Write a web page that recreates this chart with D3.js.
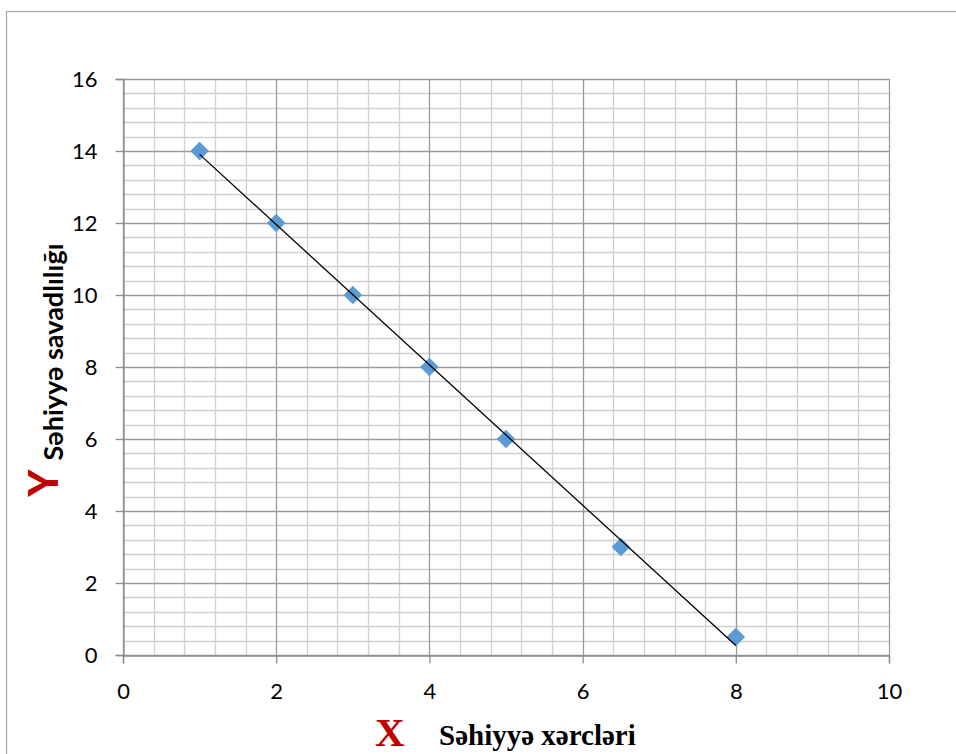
<!DOCTYPE html>
<html>
<head>
<meta charset="utf-8">
<script src="https://cdn.jsdelivr.net/npm/d3@7"></script>
<style>
  body { margin: 0; background: #fff; }
  svg { display: block; }
</style>
</head>
<body>
<div id="chart"></div>
<script>
// data
var xValues = [1, 2, 3, 4, 5, 6.5, 8];
var yValues = [14, 12, 10, 8, 6, 3, 0.5];
var xTicks = [0, 2, 4, 6, 8, 10];
var yTicks = [0, 2, 4, 6, 8, 10, 12, 14, 16];

var W = 956, H = 754;
var margin = {left: 123, top: 79, right: 956 - 889, bottom: 754 - 655};

var svg = d3.select("#chart").append("svg")
  .attr("width", W)
  .attr("height", H);

// chart border
svg.append("rect")
  .attr("x", 6.5).attr("y", 11.5)
  .attr("width", 1000).attr("height", 1000)
  .style("fill", "none")
  .style("stroke", "#a6a6a6")
  .style("stroke-width", 1.2);

var x = d3.scaleLinear().domain([0, 10]).range([margin.left, W - margin.right]);
var y = d3.scaleLinear().domain([0, 16]).range([H - margin.bottom, margin.top]);

// minor grid
var minorX = d3.range(0, 10.001, 0.4).filter(function(v) { return Math.abs(v / 2 - Math.round(v / 2)) > 1e-6; });
var minorY = d3.range(0, 16.001, 0.4).filter(function(v) { return Math.abs(v / 2 - Math.round(v / 2)) > 1e-6; });

var grid = svg.append("g");
grid.selectAll(".mx").data(minorX).enter().append("line")
  .attr("x1", function(d) { return Math.round(x(d)) + 0.5; })
  .attr("x2", function(d) { return Math.round(x(d)) + 0.5; })
  .attr("y1", y(0)).attr("y2", y(16))
  .style("stroke", "#d0d0d0").style("stroke-width", 1.3);
grid.selectAll(".my").data(minorY).enter().append("line")
  .attr("y1", function(d) { return Math.round(y(d)) + 0.5; })
  .attr("y2", function(d) { return Math.round(y(d)) + 0.5; })
  .attr("x1", x(0)).attr("x2", x(10))
  .style("stroke", "#d0d0d0").style("stroke-width", 1.3);

// major grid
grid.selectAll(".Mx").data(xTicks).enter().append("line")
  .attr("x1", function(d) { return Math.round(x(d)) + 0.5; })
  .attr("x2", function(d) { return Math.round(x(d)) + 0.5; })
  .attr("y1", y(0)).attr("y2", y(16))
  .style("stroke", "#9a9a9a").style("stroke-width", 1.3);
grid.selectAll(".My").data(yTicks).enter().append("line")
  .attr("y1", function(d) { return Math.round(y(d)) + 0.5; })
  .attr("y2", function(d) { return Math.round(y(d)) + 0.5; })
  .attr("x1", x(0)).attr("x2", x(10))
  .style("stroke", "#9a9a9a").style("stroke-width", 1.3);

// axes
var xAxis = svg.append("g")
  .attr("transform", "translate(0," + (Math.round(y(0)) + 0.5) + ")")
  .call(d3.axisBottom(x).tickValues(xTicks).tickSize(8).tickPadding(20));
var yAxis = svg.append("g")
  .attr("transform", "translate(" + (Math.round(x(0)) + 0.5) + ",0)")
  .call(d3.axisLeft(y).tickValues(yTicks).tickSize(8).tickPadding(18));

[xAxis, yAxis].forEach(function(a) {
  a.attr("font-size", null).attr("font-family", null);
  a.select(".domain").style("stroke", "#8c8c8c").style("stroke-width", 1.3);
  a.selectAll(".tick line").style("stroke", "#8c8c8c").style("stroke-width", 1.3);
  a.selectAll("text")
    .style("font-family", "Lato, 'Noto Sans', sans-serif")
    .style("font-size", "22px")
    .style("fill", "#000");
});

// markers
svg.append("g").selectAll("path").data(xValues).enter().append("path")
  .attr("transform", function(d, i) { return "translate(" + x(d) + "," + y(yValues[i]) + ")"; })
  .attr("d", d3.symbol().type(d3.symbolDiamond2).size(220))
  .style("fill", "#5b9bd5");

// linear trend line
var xm = d3.mean(xValues), ym = d3.mean(yValues);
var sxy = d3.sum(xValues, function(d, i) { return (d - xm) * (yValues[i] - ym); });
var sxx = d3.sum(xValues, function(d) { return (d - xm) * (d - xm); });
var slope = sxy / sxx, icpt = ym - slope * xm;
var x0 = d3.min(xValues), x1 = d3.max(xValues);
svg.append("line")
  .attr("x1", x(x0)).attr("y1", y(icpt + slope * x0))
  .attr("x2", x(x1)).attr("y2", y(icpt + slope * x1))
  .style("stroke", "#000").style("stroke-width", 1.3);

// y title
svg.append("text")
  .attr("transform", "translate(63,352) rotate(-90)")
  .attr("text-anchor", "middle")
  .style("font-family", "Lato, 'Noto Sans', sans-serif")
  .style("font-weight", "bold")
  .style("font-size", "27px")
  .text("Səhiyyə savadlılığı");
svg.append("text")
  .attr("transform", "translate(58,483) rotate(-90)")
  .attr("text-anchor", "middle")
  .style("font-family", "Lato, 'Noto Sans', sans-serif")
  .style("font-weight", "900")
  .style("font-size", "41px")
  .style("fill", "#c00000")
  .text("Y");

// x title
svg.append("text")
  .attr("x", 375).attr("y", 746)
  .style("font-family", "'Liberation Serif', 'DejaVu Serif', serif")
  .style("font-weight", "bold")
  .style("font-size", "41px")
  .style("fill", "#c00000")
  .text("X");
svg.append("text")
  .attr("x", 439).attr("y", 745)
  .style("font-family", "'Liberation Serif', 'DejaVu Serif', serif")
  .style("font-weight", "bold")
  .style("font-size", "29px")
  .text("Səhiyyə xərcləri");
</script>
</body>
</html>
